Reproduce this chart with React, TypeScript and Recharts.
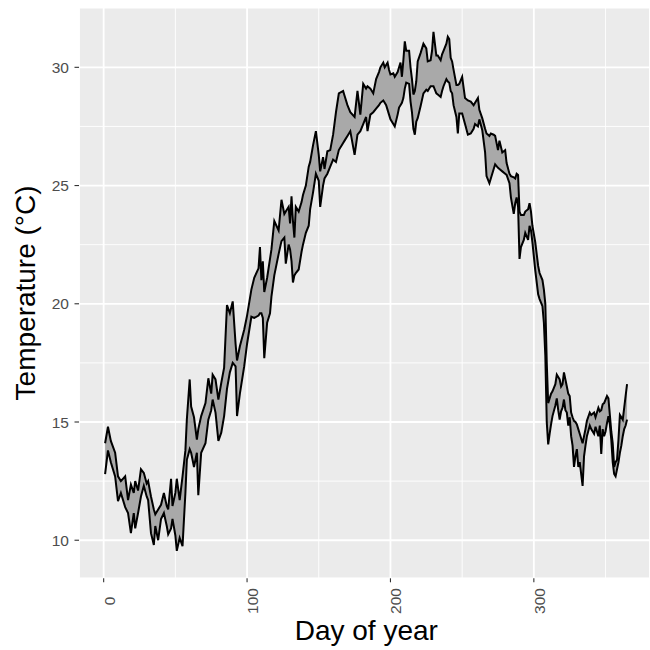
import React from "react";
import {
  Area,
  CartesianGrid,
  ComposedChart,
  Label,
  Line,
  XAxis,
  YAxis,
} from "recharts";

// dia del año y temperaturas (banda alta / baja)
const days = [
  1, 3, 5, 8, 10, 12, 15, 17, 19, 21, 22, 24, 26, 28, 30, 31, 33, 35, 36, 38,
  40, 42, 44, 45, 47, 48, 50, 51, 53, 55, 57, 58, 60, 61, 63, 65, 66, 68, 71, 73,
  75, 76, 78, 80, 82, 84, 86, 88, 90, 92, 93, 95, 98, 100, 103, 105, 108, 109, 110, 111,
  112, 114, 116, 117, 119, 122, 124, 126, 127, 129, 130, 131, 132, 133, 134, 136, 138, 139, 141, 143,
  144, 146, 148, 150, 151, 153, 154, 156, 158, 160, 162, 164, 167, 168, 170, 172, 175, 177, 179, 181,
  183, 184, 186, 188, 190, 192, 193, 195, 196, 197, 198, 199, 200, 202, 203, 205, 206, 207, 208, 209,
  210, 211, 213, 214, 215, 216, 217, 218, 219, 221, 223, 225, 226, 228, 229, 230, 232, 233, 235, 236,
  237, 239, 240, 241, 242, 243, 244, 246, 247, 248, 250, 252, 254, 256, 258, 259, 261, 262, 264, 266,
  267, 269, 270, 272, 273, 275, 276, 278, 280, 281, 283, 284, 286, 287, 288, 289, 290, 291, 293, 294,
  296, 297, 298, 299, 301, 303, 304, 306, 307, 308, 309, 310, 311, 312, 313, 315, 316, 317, 318, 319,
  320, 321, 322, 323, 324, 325, 326, 327, 328, 329, 330, 331, 332, 334, 335, 336, 337, 339, 340, 342,
  343, 345, 346, 347, 348, 349, 350, 351, 352, 353, 354, 355, 356, 357, 358, 359, 360, 361, 362, 363,
  364, 365,
];

const tempAlta = [
  14.1, 14.8, 14.2, 13.7, 12.7, 12.5, 12.7, 11.7, 12.35, 12.0, 12.5, 12.1, 13.0, 12.85, 12.4, 12.5, 11.85, 11.3, 11.1, 11.3,
  11.5, 12.0, 11.45, 11.3, 12.6, 11.45, 12.0, 12.6, 11.7, 12.7, 13.8, 15.1, 16.8, 15.65, 15.2, 14.25, 14.7, 15.25, 15.8, 16.85,
  16.2, 17.0, 16.8, 15.95, 16.65, 17.3, 19.95, 19.6, 20.1, 18.3, 17.6, 18.2, 18.9, 19.5, 20.6, 21.1, 21.5, 22.4, 21.0, 21.8,
  20.5, 21.1, 21.9, 22.3, 23.5, 23.1, 24.4, 23.8, 23.9, 24.1, 23.4, 24.55, 23.5, 22.8, 24.1, 23.9, 24.3, 24.6, 25.0, 25.8,
  26.0, 26.7, 27.3, 26.3, 25.6, 26.2, 25.7, 26.45, 26.5, 27.15, 28.1, 28.9, 29.0, 28.8, 28.4, 28.1, 27.9, 29.0, 28.0, 29.3,
  29.1, 29.2, 29.1, 28.9, 29.5, 29.8, 30.0, 30.2, 30.0, 30.1, 30.2, 29.9, 29.7, 29.75, 29.6, 29.8, 30.0, 30.2, 29.6, 30.3,
  31.1, 30.7, 30.7, 30.0, 29.5, 28.85, 29.0, 29.4, 30.25, 30.6, 31.0, 30.8, 30.25, 30.3, 30.7, 31.5, 30.5, 30.5, 30.3, 30.55,
  30.7, 31.0, 31.3, 31.2, 30.4, 30.25, 29.9, 29.25, 29.25, 29.3, 29.6, 28.7, 28.6, 28.55, 28.4, 28.5, 28.7, 28.2, 27.85, 27.4,
  27.2, 27.1, 27.2, 27.15, 27.1, 26.5, 26.9, 26.4, 26.5, 25.95, 25.5, 25.4, 25.35, 25.3, 25.5, 25.45, 23.9, 23.75, 23.75, 23.9,
  24.0, 24.25, 23.9, 23.3, 22.6, 21.6, 21.3, 21.0, 20.6, 20.0, 17.5, 15.8, 16.0, 16.2, 16.3, 16.6, 17.0, 16.9, 16.8, 16.5,
  16.6, 17.1, 16.8, 16.5, 16.2, 16.1, 15.4, 15.2, 15.05, 15.0, 14.9, 14.7, 14.5, 14.1, 14.4, 14.7, 15.05, 15.4, 15.3, 15.4,
  15.2, 15.6, 15.45, 15.5, 15.75, 15.8, 15.95, 16.1, 16.0, 15.3, 14.6, 14.1, 13.1, 13.3, 13.4, 14.25, 15.3, 15.2, 15.1, 15.6,
  16.1, 16.6,
];

const tempBaja = [
  12.8, 13.8, 13.3, 12.7, 11.65, 12.0, 11.4, 11.15, 10.3, 11.15, 10.5, 11.15, 11.85, 12.3, 11.85, 11.7, 10.3, 9.8, 10.6, 10.0,
  10.9, 11.15, 10.6, 10.25, 10.5, 10.9, 10.2, 9.55, 10.1, 9.75, 12.0, 13.4, 13.85, 13.7, 13.1, 13.7, 11.9, 13.7, 14.1, 15.1,
  15.5, 15.95, 15.4, 14.2, 14.55, 15.25, 16.4, 17.1, 17.5, 17.35, 15.25, 16.2, 17.35, 18.3, 19.45, 19.4, 19.5, 19.6, 19.6, 19.4,
  17.7, 19.2, 19.6, 20.3, 21.2, 22.1, 22.65, 22.8, 21.7, 22.5, 22.3, 21.8, 20.9, 21.2, 21.3, 21.45, 22.2, 22.5, 23.0, 23.3,
  24.0, 24.7, 25.5, 25.2, 24.1, 25.0, 25.3, 25.5, 25.8, 26.1, 26.0, 26.5, 26.8, 26.9, 27.1, 27.3, 26.3, 27.15, 27.3, 27.6,
  27.9, 27.3, 28.0, 28.1, 28.25, 28.4, 28.5, 28.6, 28.5, 28.4, 28.2, 28.0, 27.8, 27.6, 27.5, 28.0, 28.3, 28.4, 28.5, 28.7,
  29.1, 29.35, 29.3, 28.55, 28.1, 27.4, 27.15, 27.7, 27.85, 28.35, 28.9, 29.05, 29.0, 29.2, 29.2, 29.2, 28.9, 28.85, 28.75, 29.0,
  29.2, 29.5, 29.4, 29.35, 29.0, 28.9, 28.4, 27.9, 27.2, 28.05, 28.05, 27.6, 27.15, 27.2, 27.4, 27.6, 27.5, 27.8, 27.35, 26.4,
  25.4, 25.1, 25.3, 25.7, 25.9, 25.75, 25.7, 25.6, 25.5, 25.45, 25.1, 24.5, 23.8, 24.25, 24.5, 24.1, 21.9, 22.4, 22.7, 23.0,
  22.7, 23.3, 23.1, 22.6, 21.4, 20.4, 20.2, 19.9, 19.2, 17.8, 15.0, 14.05, 14.5, 14.9, 15.25, 15.7, 16.0, 15.5, 15.1, 15.45,
  15.6, 15.95, 15.5, 15.4, 14.85, 15.2, 14.4, 14.0, 13.1, 13.55, 13.85, 13.1, 13.3, 12.3, 13.55, 14.0, 14.4, 14.85, 14.7, 14.5,
  14.8, 14.4, 14.85, 13.65, 14.7, 14.4, 14.6, 14.95, 15.25, 14.9, 14.25, 13.3, 12.8, 12.7, 13.0, 13.3, 13.7, 14.0, 14.4, 14.7,
  14.85, 15.1,
];

const ticksX = [0, 100, 200, 300];
const ticksY = [10, 15, 20, 25, 30];
const menoresX = [50, 150, 250, 350];
const menoresY = [12.5, 17.5, 22.5, 27.5];

const dominioX: [number, number] = [-17.2, 381.0];
const dominioY: [number, number] = [8.39, 32.53];

const datos = days.map((d, i) => ({
  day: d,
  hi: tempAlta[i],
  lo: tempBaja[i],
}));

const fuente = "'Liberation Sans', Arial, Helvetica, sans-serif";

const TickX = (props: any) => {
  const { x, y, payload } = props;
  const cx = x + 5.5;
  const cy = y + 16.7;
  return (
    <text
      x={cx}
      y={cy}
      transform={`rotate(-90 ${cx} ${cy})`}
      textAnchor="middle"
      dominantBaseline="central"
      fill="#4d4d4d"
      fontSize={15.5}
      fontFamily={fuente}
    >
      {payload.value}
    </text>
  );
};

export default function App() {
  return (
    <div
      style={{
        position: "absolute",
        left: 0,
        top: 0,
        width: 650,
        height: 650,
        overflow: "hidden",
        background: "#fff",
        fontFamily: fuente,
      }}
    >
      <ComposedChart
        width={650}
        height={650}
        data={datos}
        margin={{ top: 7.5, right: 0, bottom: 0, left: 0 }}
      >
        {/* fondo + rejilla mayor */}
        <CartesianGrid stroke="#ffffff" strokeWidth={1.8} fill="#ebebeb" />
        {/* rejilla menor, con ejes ocultos */}
        <CartesianGrid
          xAxisId="menor"
          yAxisId="menor"
          stroke="#ffffff"
          strokeWidth={0.9}
        />
        <XAxis
          xAxisId="menor"
          type="number"
          dataKey="day"
          domain={dominioX}
          ticks={menoresX}
          allowDataOverflow
          hide
        />
        <YAxis
          yAxisId="menor"
          type="number"
          domain={dominioY}
          ticks={menoresY}
          allowDataOverflow
          hide
        />
        <XAxis
          type="number"
          dataKey="day"
          domain={dominioX}
          ticks={ticksX}
          allowDataOverflow
          height={71.7}
          axisLine={false}
          tickSize={4}
          tickLine={{ stroke: "#333333", strokeWidth: 1.1 }}
          tick={<TickX />}
        >
          <Label
            content={() => (
              <text
                x={366.3}
                y={640}
                textAnchor="middle"
                fontSize={28}
                fill="#000"
                fontFamily={fuente}
              >
                Day of year
              </text>
            )}
          />
        </XAxis>
        <YAxis
          type="number"
          domain={dominioY}
          ticks={ticksY}
          allowDataOverflow
          width={79}
          axisLine={false}
          tickSize={4.5}
          tickMargin={5.5}
          tickLine={{ stroke: "#333333", strokeWidth: 1.1 }}
          tick={{ fill: "#4d4d4d", fontSize: 15.5, fontFamily: fuente }}
        >
          <Label
            content={(p: any) => {
              const vb = p.viewBox || { y: 7.5, height: 570.8 };
              const cy = vb.y + vb.height / 2;
              return (
                <text
                  x={35}
                  y={cy}
                  transform={`rotate(-90 35 ${cy})`}
                  textAnchor="middle"
                  fontSize={28}
                  fill="#000"
                  fontFamily={fuente}
                >
                  Temperature (°C)
                </text>
              );
            }}
          />
        </YAxis>
        <Area
          dataKey={(d: any) => [d.lo, d.hi]}
          type="linear"
          fill="#a9a9a9"
          fillOpacity={1}
          stroke="none"
          isAnimationActive={false}
        />
        <Line dataKey="hi" type="linear" stroke="#000" strokeWidth={2} dot={false} isAnimationActive={false} />
        <Line dataKey="lo" type="linear" stroke="#000" strokeWidth={2} dot={false} isAnimationActive={false} />
      </ComposedChart>
    </div>
  );
}
